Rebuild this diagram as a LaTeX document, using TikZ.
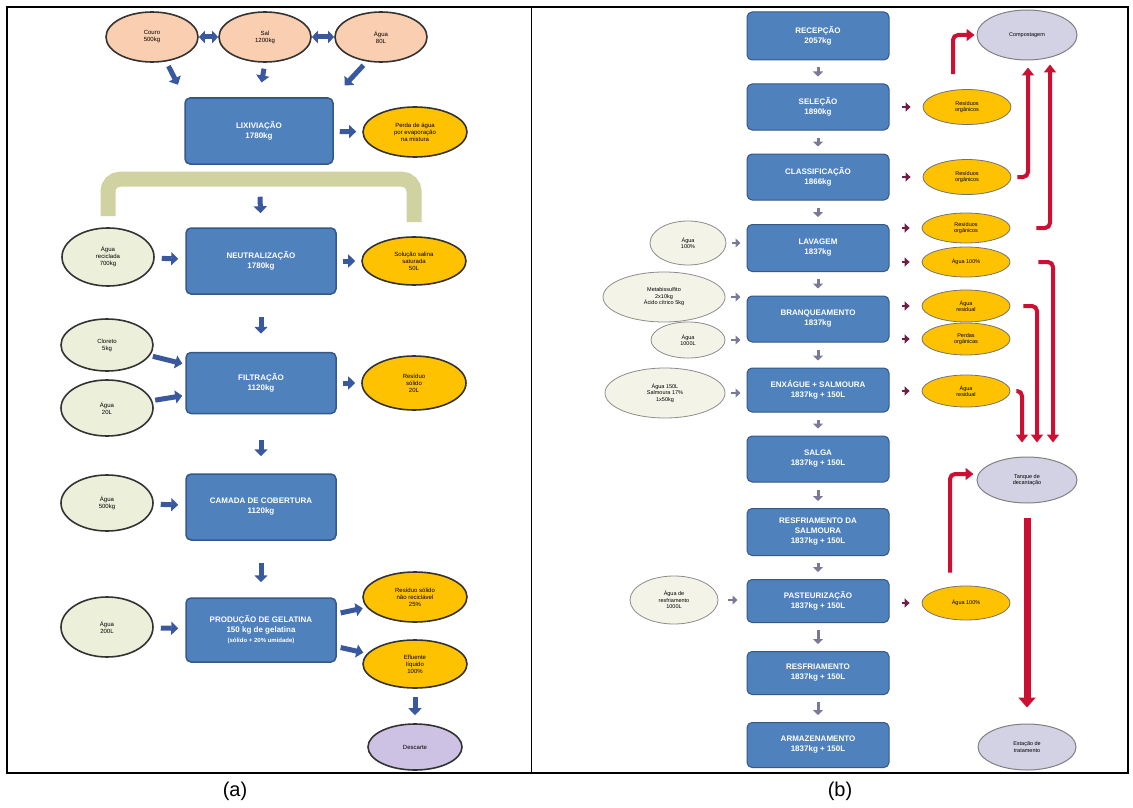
\documentclass[tikz,border=0pt]{standalone}
\usepackage{fontspec}
\setmainfont{Liberation Sans}
\usetikzlibrary{arrows.meta, positioning, shapes.geometric}

\definecolor{boxblue}{RGB}{79,129,189}
\definecolor{boxedge}{RGB}{52,88,136}
\definecolor{oranfill}{RGB}{255,194,0}
\definecolor{inpfill}{RGB}{236,240,218}
\definecolor{inbfill}{RGB}{243,243,232}
\definecolor{peach}{RGB}{250,206,176}
\definecolor{lilac}{RGB}{206,194,228}
\definecolor{greyfill}{RGB}{210,210,228}
\definecolor{khaki}{RGB}{208,210,162}
\definecolor{arrblue}{RGB}{58,88,158}
\definecolor{redline}{RGB}{204,16,52}
\definecolor{maroon}{RGB}{112,30,72}
\definecolor{greyarr}{RGB}{122,122,152}

\begin{document}
\begin{tikzpicture}[x=1pt, y=-1pt,
  procbox/.style={rectangle, rounded corners=5pt, fill=boxblue, draw=boxedge, line width=1.5pt,
    text=white, align=center, minimum width=150, minimum height=64, inner sep=2pt,
    font=\fontsize{8}{10}\selectfont\bfseries},
  procb/.style={procbox, minimum width=142, minimum height=46, line width=1pt},
  topin/.style={ellipse, draw=black!80, line width=1.6pt, fill=peach, minimum width=92,
    minimum height=50, inner sep=0pt, align=center, font=\fontsize{6}{7}\selectfont},
  ina/.style={topin, fill=inpfill, minimum height=56},
  outa/.style={topin, fill=oranfill, minimum width=104, minimum height=50},
  endnode/.style={topin, fill=lilac, minimum width=94, minimum height=46},
  inb/.style={ellipse, draw=black!45, line width=0.8pt, fill=inbfill, inner sep=0pt,
    align=center, font=\fontsize{5.5}{6.5}\selectfont},
  outb/.style={inb, draw=black!55, fill=oranfill, minimum width=88, minimum height=32},
  greyb/.style={inb, draw=black!50, fill=greyfill, line width=1pt, minimum width=100, minimum height=48},
  fatarr/.style={draw=arrblue, line width=5pt, -{Triangle[length=7pt,width=13pt]}},
  twoarr/.style={draw=arrblue, line width=5pt, {Triangle[length=6pt,width=12pt]}-{Triangle[length=6pt,width=12pt]}},
  downb/.style={draw=greyarr, line width=3pt, -{Triangle[length=5pt,width=10pt]}, shorten <=7pt, shorten >=7pt},
  sideb/.style={draw=maroon, line width=2.5pt, -{Triangle[length=5pt,width=9pt]}, shorten <=12pt, shorten >=12pt},
  leftb/.style={draw=greyarr, line width=2.5pt, -{Triangle[length=5pt,width=9pt]}, shorten <=6pt, shorten >=6pt},
  redarr/.style={draw=redline, line width=4pt, rounded corners=5pt, -{Triangle[length=8pt,width=12pt]}},
  bracket/.style={draw=khaki, line width=15pt, rounded corners=12pt}]

  \useasboundingbox (0,0) rectangle (1133,808);

  % Frame and captions
  \draw[line width=1.6pt] (7,7) rectangle (1128,773);
  \draw[line width=1pt] (531,7) -- (531,773);
  \node[font=\fontsize{20}{24}\selectfont] (capa) at (235,791) {(a)};
  \node[font=\fontsize{20}{24}\selectfont] (capb) at (840,791) {(b)};

  % (a) raw materials
  \node[topin] (sal1) at (152,37) {Couro\\500kg};
  \node[topin] (sal2) at (265,37) {Sal\\1200kg};
  \node[topin] (sal3) at (381,37) {Água\\80L};

  % (a) process steps
  \node[procbox, minimum width=148, minimum height=66] (a1) at (259,131) {LIXIVIAÇÃO\\1780kg};
  \node[procbox, minimum height=66] (a2) at (261,261) {NEUTRALIZAÇÃO\\1780kg};
  \node[procbox, minimum height=61] (a3) at (261,383) {FILTRAÇÃO\\1120kg};
  \node[procbox, minimum height=66] (a4) at (261,507) {CAMADA DE COBERTURA\\1120kg};
  \node[procbox] (a5) at (261,630) {PRODUÇÃO DE GELATINA\\150 kg de gelatina\\{\fontsize{6}{7}\selectfont (sólido + 20\% umidade)}};

  % (a) inputs
  \node[ina, minimum height=58] (ia2) at (108,257) {Água\\reciclada\\700kg};
  \node[ina, minimum height=52] (ia3a) at (107,345) {Cloreto\\5kg};
  \node[ina] (ia3b) at (107,408) {Água\\20L};
  \node[ina] (ia4) at (107,503) {Água\\500kg};
  \node[ina, minimum height=60] (ia5) at (107,627) {Água\\200L};

  % (a) outputs
  \node[outa] (oa1) at (415,132) {Perda de água\\por evaporação\\na mistura};
  \node[outa, minimum height=48] (oa2) at (414,261) {Solução salina\\saturada\\50L};
  \node[outa, minimum height=54] (oa3) at (414,383) {Resíduo\\sólido\\20L};
  \node[outa] (oa5a) at (415,597) {Resíduo sólido\\não reciclável\\25\%};
  \node[outa, minimum height=48] (oa5b) at (415,664) {Efluente\\líquido\\100\%};
  \node[endnode] (fim) at (415,747) {Descarte};

  % (a) recycled brine
  \draw[bracket, shorten <=11pt, shorten >=14pt] (ia2.north) -- ++(0,-48) -| (oa2.north);

  % (a) arrows
  \draw[twoarr] (sal1) -- (sal2);
  \draw[twoarr] (sal2) -- (sal3);
  \draw[fatarr, shorten <=5pt, shorten >=14pt] (sal1.-60) -- (a1.north west);
  \draw[fatarr, shorten <=6pt, shorten >=15pt] (sal2.south) -- (a1.north);
  \draw[fatarr, shorten <=5pt, shorten >=16pt] (sal3.-120) -- (a1.north east);
  \draw[fatarr, shorten <=32pt, shorten >=14pt] (a1.south) -- (a2.north);
  \draw[fatarr, shorten <=22pt, shorten >=18pt] (a2.south) -- (a3.north);
  \draw[fatarr, shorten <=26pt, shorten >=17pt] (a3.south) -- (a4.north);
  \draw[fatarr, shorten <=22pt, shorten >=15pt] (a4.south) -- (a5.north);
  \draw[fatarr, shorten <=8pt, shorten >=8pt] (oa5b.south) -- (fim.north);
  \draw[fatarr, shorten <=6pt, shorten >=6pt] (a1) -- (oa1);
  \draw[fatarr, shorten <=6pt, shorten >=6pt] (a2) -- (oa2);
  \draw[fatarr, shorten <=6pt, shorten >=6pt] (a3) -- (oa3);
  \draw[fatarr, shorten <=4pt, shorten >=4pt] (a5) -- (oa5a);
  \draw[fatarr, shorten <=4pt, shorten >=4pt] (a5) -- (oa5b);
  \draw[fatarr, shorten <=7pt, shorten >=7pt] (ia2) -- (a2);
  \draw[fatarr, shorten <=3pt, shorten >=3pt] (ia3a) -- (a3);
  \draw[fatarr, shorten <=3pt, shorten >=3pt] (ia3b) -- (a3);
  \draw[fatarr, shorten <=7pt, shorten >=7pt] (ia4) -- (a4);
  \draw[fatarr, shorten <=7pt, shorten >=7pt] (ia5) -- (a5);

  % (b) process steps
  \node[procb, minimum height=48] (b1) at (818,36) {RECEPÇÃO\\2057kg};
  \node[procb] (b2) at (818,107) {SELEÇÃO\\1890kg};
  \node[procb] (b3) at (818,177) {CLASSIFICAÇÃO\\1866kg};
  \node[procb, minimum height=47] (b4) at (818,248) {LAVAGEM\\1837kg};
  \node[procb] (b5) at (818,319) {BRANQUEAMENTO\\1837kg};
  \node[procb, minimum height=44] (b6) at (818,390) {ENXÁGUE + SALMOURA\\1837kg + 150L};
  \node[procb] (b7) at (818,459) {SALGA\\1837kg + 150L};
  \node[procb, minimum height=47] (b8) at (818,532) {RESFRIAMENTO DA\\SALMOURA\\1837kg + 150L};
  \node[procb, minimum height=43] (b9) at (818,601) {PASTEURIZAÇÃO\\1837kg + 150L};
  \node[procb, minimum height=43] (b10) at (818,673) {RESFRIAMENTO\\1837kg + 150L};
  \node[procb, minimum height=45] (b11) at (818,745) {ARMAZENAMENTO\\1837kg + 150L};

  % (b) inputs
  \node[inb, minimum width=76, minimum height=44] (ib4) at (688,243) {Água\\100\%};
  \node[inb, minimum width=122, minimum height=50] (ib5a) at (664,297) {Metabissulfito\\2x10kg\\Ácido cítrico 5kg};
  \node[inb, minimum width=74, minimum height=36] (ib5b) at (688,340) {Água\\1000L};
  \node[inb, minimum width=120, minimum height=50] (ib6) at (665,393) {Água 150L\\Salmoura 17\%\\1x50kg};
  \node[inb, minimum width=88, minimum height=48] (ib9) at (674,600) {Água de\\resfriamento\\1000L};

  % (b) outputs
  \node[outb, minimum height=35] (ob2) at (967,107) {Resíduos\\orgânicos};
  \node[outb, minimum height=35] (ob3) at (967,177) {Resíduos\\orgânicos};
  \node[outb, minimum height=30] (ob4a) at (966,228) {Resíduos\\orgânicos};
  \node[outb, minimum height=30] (ob4b) at (966,262) {Água 100\%};
  \node[outb] (ob5a) at (966,306) {Água\\residual};
  \node[outb] (ob5b) at (966,339) {Perdas\\orgânicas};
  \node[outb] (ob6) at (966,391) {Água\\residual};
  \node[outb, minimum height=34] (ob9) at (966,603) {Água 100\%};

  % (b) destinations
  \node[greyb, minimum height=50] (comp) at (1027,35) {Compostagem};
  \node[greyb, minimum height=46] (mid) at (1027,480) {Tanque de\\decantação};
  \node[greyb, minimum width=98, minimum height=46] (etr) at (1027,747) {Estação de\\tratamento};

  % (b) arrows
  \foreach \u/\v in {b1/b2, b2/b3, b3/b4, b4/b5, b5/b6, b6/b7, b7/b8, b8/b9, b9/b10, b10/b11}
    \draw[downb] (\u.south) -- (\v.north);
  \foreach \u/\v in {b2/ob2, b3/ob3, b4/ob4a, b4/ob4b, b5/ob5a, b5/ob5b, b6/ob6, b9/ob9}
    \draw[sideb] (\u.east |- \v.west) -- (\v.west);
  \foreach \u/\v in {ib4/b4, ib5a/b5, ib5b/b5, ib6/b6}
    \draw[leftb] (\u.east) -- (\v.west |- \u.east);
  \draw[leftb, shorten <=10pt, shorten >=9pt] (ib9.east) -- (b9.west |- ib9.east);

  % (b) waste streams
  \draw[redarr, shorten <=15pt, shorten >=2pt] ([xshift=-14pt]ob2.north) |- (comp.west);
  \draw[redarr, shorten <=6pt, shorten >=7pt] (ob3.east) -| ([xshift=1pt]comp.south);
  \draw[redarr, shorten <=26pt, shorten >=4pt] (ob4a.east) -| ([xshift=23pt]comp.south);
  \draw[redarr, shorten <=28pt, shorten >=14pt] (ob4b.east) -| ([xshift=26pt]mid.north);
  \draw[redarr, shorten <=13pt, shorten >=14pt] (ob5a.east) -| ([xshift=10pt]mid.north);
  \draw[redarr, shorten <=6pt, shorten >=14pt] (ob6.east) -| ([xshift=-5pt]mid.north);
  \draw[redarr, shorten <=13pt, shorten >=3pt] ([xshift=-16pt]ob9.north) |- ([yshift=6pt]mid.west);
  \draw[redarr, line width=7pt, -{Triangle[length=10pt,width=17pt]}, shorten <=14pt, shorten >=16pt] (mid.south) -- (etr.north);
\end{tikzpicture}
\end{document}
